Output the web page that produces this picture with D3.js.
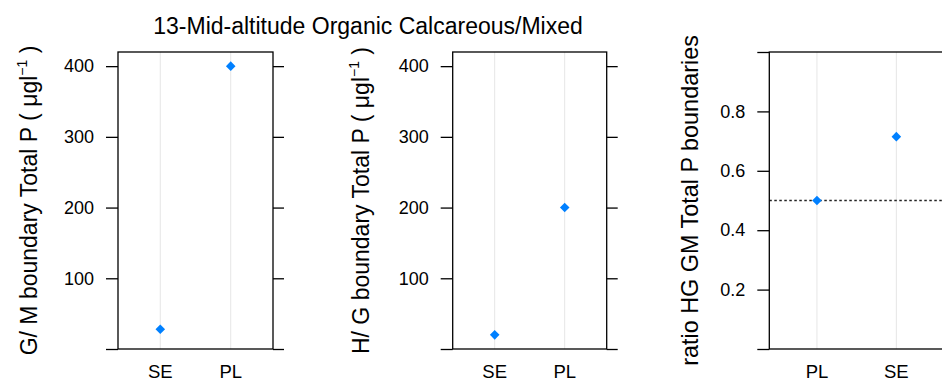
<!DOCTYPE html>
<html lang="en">
<head>
  <meta charset="UTF-8">
  <title>13-Mid-altitude Organic Calcareous/Mixed</title>
  <script src="https://d3js.org/d3.v7.min.js"></script>
  <style>
    body { margin: 0; background: #fff; }
    text { font-family: "Liberation Sans", Arial, sans-serif; fill: #000; }
  </style>
</head>
<body>
  <script>
    // data
    var titleText = "13-Mid-altitude Organic Calcareous/Mixed";
    var gmCats = ["SE", "PL"];
    var gmValues = [28, 400];
    var hgCats = ["SE", "PL"];
    var hgValues = [20, 200];
    var ratioCats = ["PL", "SE"];
    var ratioValues = [0.5, 0.715];
    var boundaryTicks = [0, 100, 200, 300, 400];
    var ratioTicks = [0, 0.2, 0.4, 0.6, 0.8, 1.0];
    var ratioRef = 0.5;

    var svgWidth = 942;
    var svgHeight = 381;
    var panelTop = 52, panelBottom = 349;

    var svg = d3.select("body")
                .append("svg")
                .attr("width", svgWidth)
                .attr("height", svgHeight);

    svg.append("text")
       .attr("x", 368)
       .attr("y", 34)
       .attr("text-anchor", "middle")
       .style("font-size", "23px")
       .text(titleText);

    var panels = [
      { cats: gmCats, values: gmValues, left: 118, right: 273, ylim: [0, 420],
        ticks: boundaryTicks, fmt: d3.format("d"), labX: 37, lab: "G/ M" },
      { cats: hgCats, values: hgValues, left: 452.7, right: 606.7, ylim: [0, 420],
        ticks: boundaryTicks, fmt: d3.format("d"), labX: 369, lab: "H/ G" },
      { cats: ratioCats, values: ratioValues, left: 769.3, right: 944, ylim: [0, 1],
        ticks: ratioTicks, fmt: d3.format(".1f"), labX: 698, ratio: true }
    ];

    panels.forEach(function(p) {
      var x = d3.scalePoint().domain(p.cats).range([p.left, p.right]).padding(0.6);
      var y = d3.scaleLinear().domain(p.ylim).range([panelBottom, panelTop]);
      var g = svg.append("g");

      // vertical grid lines at the categories
      g.selectAll(".grid")
       .data(p.cats)
       .enter()
       .append("line")
       .attr("x1", d => x(d)).attr("x2", d => x(d))
       .attr("y1", panelTop).attr("y2", panelBottom)
       .style("stroke", "#e6e6e6")
       .style("stroke-width", 1);

      if (p.ratio) {
        g.append("line")
         .attr("x1", p.left).attr("x2", p.right)
         .attr("y1", y(ratioRef)).attr("y2", y(ratioRef))
         .style("stroke", "#222")
         .style("stroke-width", 1.3)
         .style("stroke-dasharray", "2.5,2.5");
      }

      // left and right axes, no labels on ticks at the panel edges
      var leftAxis = d3.axisLeft(y).tickValues(p.ticks).tickSize(12).tickPadding(12)
                       .tickFormat(d => (d === p.ylim[0] || d === p.ylim[1]) ? "" : p.fmt(d));
      var rightAxis = d3.axisRight(y).tickValues(p.ticks).tickSize(11).tickFormat("");
      var la = g.append("g").attr("transform", "translate(" + p.left + ",0)").call(leftAxis);
      var ra = g.append("g").attr("transform", "translate(" + p.right + ",0)").call(rightAxis);
      [la, ra].forEach(function(a) {
        a.select(".domain").remove();
        a.selectAll("line").style("stroke", "#000").style("stroke-width", 1.3);
        a.selectAll("text").style("font-size", "18px")
         .style("font-family", "'Liberation Sans', Arial, sans-serif").attr("fill", "#000");
      });

      // panel border
      g.append("rect")
       .attr("x", p.left).attr("y", panelTop)
       .attr("width", p.right - p.left).attr("height", panelBottom - panelTop)
       .style("fill", "none")
       .style("stroke", "#000")
       .style("stroke-width", 1.3);

      // category labels
      g.selectAll(".xlab")
       .data(p.cats)
       .enter()
       .append("text")
       .attr("x", d => x(d))
       .attr("y", 378)
       .attr("text-anchor", "middle")
       .style("font-size", "18.5px")
       .text(d => d);

      // points (filled diamonds)
      g.selectAll(".pt")
       .data(p.values)
       .enter()
       .append("path")
       .attr("d", d3.symbol(d3.symbolSquare, 46))
       .attr("transform", (d, i) => "translate(" + x(p.cats[i]) + "," + y(d) + ") rotate(45)")
       .style("fill", "#0080ff");

      // y axis title
      var yl = svg.append("text")
                  .attr("transform", "translate(" + p.labX + "," + ((panelTop + panelBottom) / 2) + ") rotate(-90)")
                  .attr("text-anchor", "middle")
                  .style("font-size", p.ratio ? "23.4px" : "23px");
      if (p.ratio) {
        yl.text("ratio HG GM Total P boundaries");
      } else {
        yl.append("tspan").text(p.lab + " boundary Total P ( \u03bcgl");
        yl.append("tspan").attr("dy", -10).style("font-size", "14px").text("\u22121");
        yl.append("tspan").attr("dy", 10).text(" )");
      }
    });
  </script>
</body>
</html>
